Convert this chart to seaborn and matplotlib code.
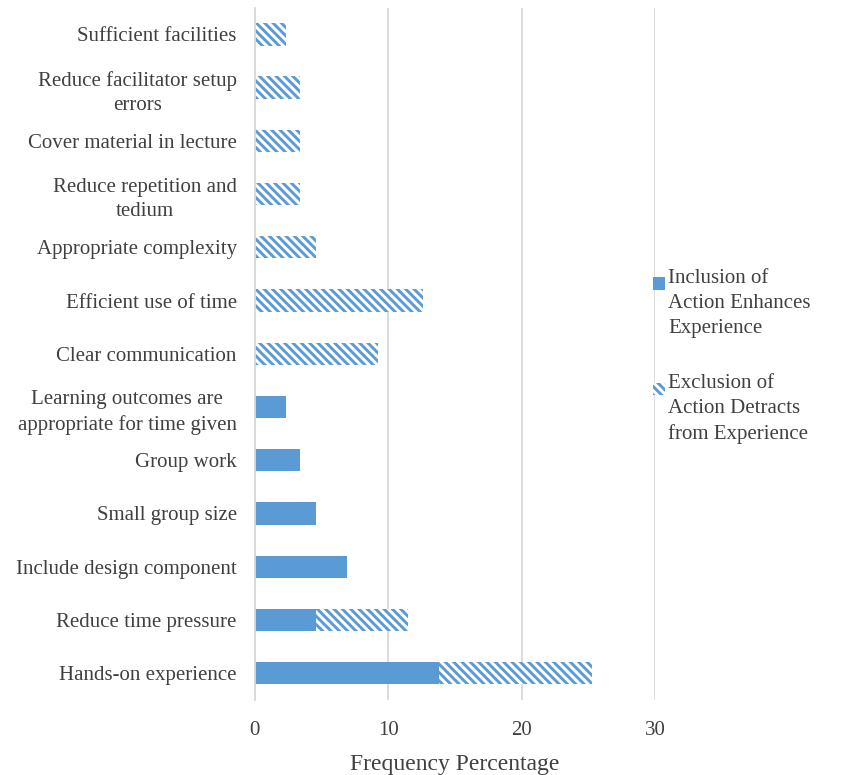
import pandas as pd
import matplotlib.pyplot as plt
import seaborn as sns
from matplotlib.patches import Patch

# categories, listed top to bottom as shown in the chart
actions = ['Sufficient facilities',
           'Reduce facilitator setup\nerrors',
           'Cover material in lecture',
           'Reduce repetition and\ntedium',
           'Appropriate complexity',
           'Efficient use of time',
           'Clear communication',
           'Learning outcomes are\nappropriate for time given',
           'Group work',
           'Small group size',
           'Include design component',
           'Reduce time pressure',
           'Hands-on experience']

# frequency percentages
inclusion = [0, 0, 0, 0, 0, 0, 0, 2.3, 3.4, 4.6, 6.9, 4.6, 13.8]
exclusion = [2.3, 3.4, 3.4, 3.4, 4.6, 12.6, 9.2, 0, 0, 0, 0, 6.9, 11.5]

df = pd.DataFrame({'action': actions, 'inclusion': inclusion, 'exclusion': exclusion})
df['total'] = df['inclusion'] + df['exclusion']

blue = '#5B9BD5'
text_col = '#404040'
hatch = '\\\\\\\\'

sns.set_style('white')
plt.rcParams['font.family'] = ['Liberation Serif', 'DejaVu Serif']
plt.rcParams['hatch.linewidth'] = 2.1

fig = plt.figure(figsize=(8.44, 7.75), dpi=100)
ax = fig.add_axes([0.302, 0.097, 0.474, 0.893])

# hatched bar for the total, solid part drawn on top of it
sns.barplot(data=df, x='total', y='action', order=actions, color='white',
            width=0.42, ax=ax, edgecolor=blue, linewidth=0, hatch=hatch)
sns.barplot(data=df, x='inclusion', y='action', order=actions, color=blue,
            width=0.42, ax=ax, linewidth=0, saturation=1)

ax.set_xlim(0, 30)
ax.set_xticks([0, 10, 20, 30])
ax.xaxis.grid(True, color='#d9d9d9', linewidth=1.3)
ax.set_axisbelow(True)
for s in ['top', 'right', 'bottom']:
    ax.spines[s].set_visible(False)
ax.spines['left'].set_color('#d9d9d9')
ax.spines['left'].set_linewidth(1.3)
ax.tick_params(axis='y', length=0, labelsize=15, labelcolor=text_col, pad=13)
ax.tick_params(axis='x', length=0, labelsize=15, labelcolor=text_col, pad=15)
for lab in ax.get_yticklabels():
    lab.set_multialignment('center')
    lab.set_linespacing(1.4)
ax.set_ylabel('')
ax.set_xlabel('Frequency Percentage', fontsize=17, color=text_col, labelpad=10)

handles = [Patch(facecolor=blue, edgecolor=blue, linewidth=0),
           Patch(facecolor='white', edgecolor=blue, linewidth=0, hatch=hatch)]
labels = ['Inclusion of\nAction Enhances\nExperience',
          'Exclusion of\nAction Detracts\nfrom Experience']
leg = fig.legend(handles, labels, loc='center left', bbox_to_anchor=(0.752, 0.540),
                 frameon=False, fontsize=15, handlelength=0.55, handleheight=0.55,
                 handletextpad=0.15, labelspacing=1.75, labelcolor=text_col)
for t in leg.get_texts():
    t.set_linespacing(1.4)
for h in leg.legend_handles:
    h.set_y(h.get_y() + 14)

fig.savefig('out.png', dpi=100)
